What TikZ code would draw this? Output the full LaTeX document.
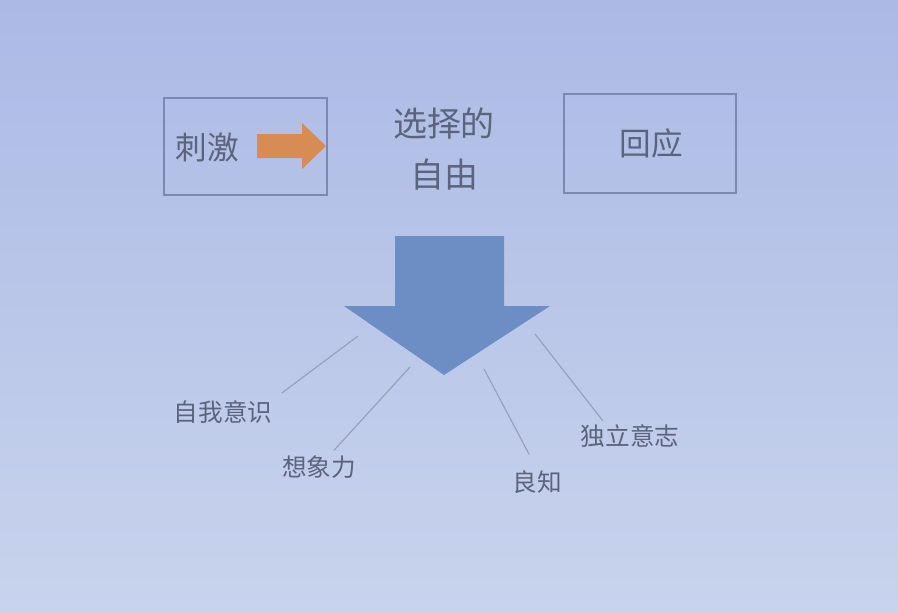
\documentclass[tikz,border=0pt]{standalone}
\usepackage{fontspec}
\newfontfamily\cjk{Noto Sans CJK SC}
\usepackage{tikz}
\usetikzlibrary{calc}
\usepackage{xcolor}
\definecolor{bgtop}{RGB}{172,185,229}
\definecolor{bgbot}{RGB}{200,212,236}
\definecolor{boxline}{RGB}{125,135,175}
\definecolor{txt}{RGB}{92,100,125}
\definecolor{spokeline}{RGB}{150,162,185}
\definecolor{bigblue}{RGB}{108,142,196}
\definecolor{orangefill}{RGB}{214,140,82}

\begin{document}
\begin{tikzpicture}[x=0.03cm,y=-0.03cm,
  framebox/.style={draw=boxline,line width=1.5pt},
  bigtext/.style={text=txt,font=\cjk\fontsize{27}{30}\selectfont,inner sep=0pt},
  smalltext/.style={text=txt,font=\cjk\fontsize{21}{24}\selectfont,inner sep=1pt},
  spoke/.style={draw=spokeline,line width=1pt}]
  \useasboundingbox (0,0) rectangle (898,612);
  \shade[top color=bgtop,bottom color=bgbot] (0,0) rectangle (898,612);

  \draw[framebox] (164,98) rectangle (327,195);
  \node[bigtext] (stim) at (207,147) {刺激};
  \path[fill=orangefill] (257,134)--(302,134)--(302,123)--(326,146)--(302,169)--(302,158)--(257,158)--cycle;

  \node[bigtext,align=center,font=\cjk\fontsize{29}{44}\selectfont] (free) at (444,149) {选择的\\自由};

  \draw[framebox] (564,94) rectangle (736,193);
  \node[bigtext] (resp) at (651,143) {回应};

  \path[fill=bigblue] (395,236)--(504,236)--(504,306)--(550,306)--(444,375)--(344,306)--(395,306)--cycle;
  \coordinate (s1) at (358,336);
  \coordinate (s2) at (410,367);
  \coordinate (s3) at (484,369);
  \coordinate (s4) at (535,334);

  \node[smalltext] (self) at (223,412) {自我意识};
  \node[smalltext] (imag) at (319,467) {想象力};
  \node[smalltext] (consc) at (537,482) {良知};
  \node[smalltext] (will) at (630,436) {独立意志};

  \draw[spoke,shorten >=0.3cm] (s1) -- (self.north east);
  \draw[spoke,shorten >=0.15cm] (s2) -- ($(imag.north west)!0.65!(imag.north east)$);
  \draw[spoke,shorten >=0.5cm] (s3) -- (consc.north);
  \draw[spoke,shorten >=0.1cm] (s4) -- ($(will.north west)!0.25!(will.north east)$);
\end{tikzpicture}
\end{document}
